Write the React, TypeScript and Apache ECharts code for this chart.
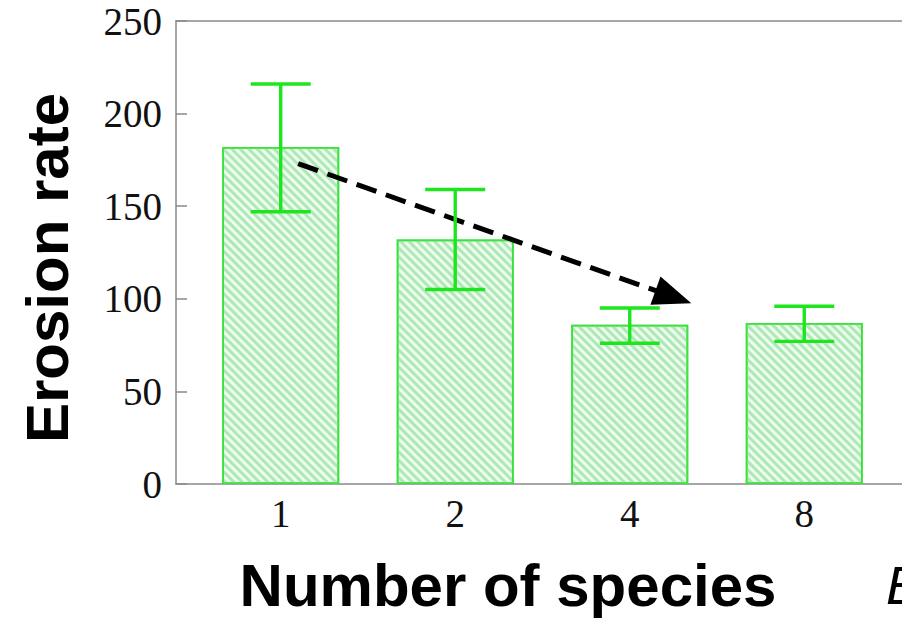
import React, { useEffect, useRef } from "react";
import * as echarts from "echarts";

const categories = ["1", "2", "4", "8"];
const xPositions = [1, 2, 3, 4];
const erosionMean = [182, 132, 86, 87];
const errHigh = [216, 159, 95, 96];
const errLow = [147, 105, 76, 77];
const arrowStart = [1.1, 173];
const arrowEnd = [3.25, 101];

const GRAY = "#8a8a8a";
const GREEN = "#1ee61e";

export default function App() {
  const ref = useRef<HTMLDivElement>(null);
  useEffect(() => {
    const chart = echarts.init(ref.current!, null, { renderer: "svg" });
    const xRange = { min: 0.4, max: 4.56 };
    const option: any = {
      animation: false,
      backgroundColor: "#ffffff",
      grid: {
        left: 176,
        top: 21,
        bottom: 134,
        right: 0,
        show: false,
      },
      xAxis: [
        {
          type: "value",
          ...xRange,
          splitLine: { show: false },
          axisLine: { lineStyle: { color: GRAY, width: 1.5 } },
          axisTick: { show: false },
          axisLabel: {
            customValues: xPositions,
            formatter: (v: number) => categories[xPositions.indexOf(v)] ?? "",
            fontFamily: "Liberation Serif",
            fontSize: 39,
            color: "#111",
            margin: 10,
          },
        },
        {
          type: "value",
          position: "top",
          ...xRange,
          splitLine: { show: false },
          axisLine: { show: true, lineStyle: { color: GRAY, width: 1.5 } },
          axisTick: { show: false },
          axisLabel: { show: false },
        },
      ],
      yAxis: {
        type: "value",
        min: 0,
        max: 250,
        interval: 50,
        splitLine: { show: false },
        axisLine: { show: true, lineStyle: { color: GRAY, width: 1.5 } },
        axisTick: { show: true, inside: true, length: 11, lineStyle: { color: GRAY, width: 1.5 } },
        axisLabel: {
          fontFamily: "Liberation Serif",
          fontSize: 39,
          color: "#111",
          margin: 14,
        },
      },
      series: [
        {
          type: "bar",
          data: xPositions.map((x, i) => [x, erosionMean[i]]),
          barWidth: 117,
          itemStyle: {
            color: "#eefbef",
            borderColor: "#3ee23e",
            borderWidth: 1.8,
            decal: {
              symbol: "rect",
              symbolSize: 1,
              dashArrayX: [1, 0],
              dashArrayY: [2.4, 2.4],
              rotation: Math.PI / 4,
              color: "#ade9b5",
            },
          },
          emphasis: { disabled: true },
          markLine: {
            silent: true,
            symbol: ["none", "triangle"],
            symbolSize: [30, 38],
            label: { show: false },
            lineStyle: { color: "#000", width: 5, type: [21, 10] },
            emphasis: { disabled: true },
            data: [[{ coord: arrowStart }, { coord: arrowEnd }]],
          },
        },
        {
          type: "custom",
          z: 5,
          data: xPositions.map((x, i) => [x, errLow[i], errHigh[i]]),
          renderItem: (params: any, api: any) => {
            const x = api.value(0);
            const lo = api.coord([x, api.value(1)]);
            const hi = api.coord([x, api.value(2)]);
            const half = 30;
            const style = { stroke: GREEN, lineWidth: 3.4, fill: "none" };
            return {
              type: "group",
              children: [
                { type: "line", shape: { x1: lo[0], y1: lo[1], x2: hi[0], y2: hi[1] }, style },
                { type: "line", shape: { x1: hi[0] - half, y1: hi[1], x2: hi[0] + half, y2: hi[1] }, style },
                { type: "line", shape: { x1: lo[0] - half, y1: lo[1], x2: lo[0] + half, y2: lo[1] }, style },
              ],
            };
          },
        },
      ],
      graphic: [
        {
          type: "text",
          x: 47,
          y: 268,
          rotation: Math.PI / 2,
          style: {
            text: "Erosion rate",
            fontFamily: "Liberation Sans",
            fontWeight: "bold",
            fontSize: 60,
            fill: "#000",
            align: "center",
            verticalAlign: "middle",
          },
        },
        {
          type: "text",
          x: 508,
          y: 585,
          style: {
            text: "Number of species",
            fontFamily: "Liberation Sans",
            fontWeight: "bold",
            fontSize: 60,
            fill: "#000",
            align: "center",
            verticalAlign: "middle",
          },
        },
        {
          type: "text",
          x: 886,
          y: 585,
          style: {
            text: "E",
            fontFamily: "Liberation Sans",
            fontStyle: "italic",
            fontSize: 54,
            fill: "#000",
            align: "left",
            verticalAlign: "middle",
          },
        },
      ],
    };
    chart.setOption(option);
    return () => chart.dispose();
  }, []);
  return (
    <div
      ref={ref}
      style={{ position: "fixed", left: 0, top: 0, width: 902, height: 618 }}
    />
  );
}
